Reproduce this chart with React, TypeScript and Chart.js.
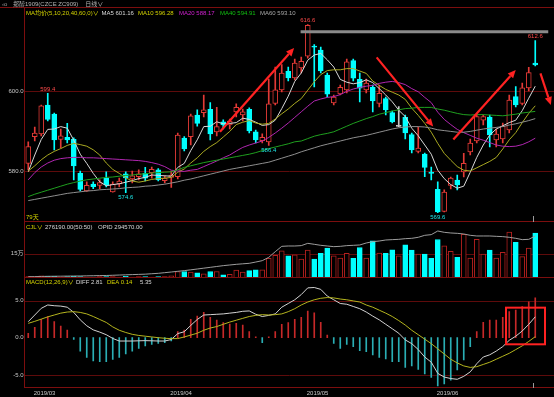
import React, { useEffect, useRef } from 'react';
import { Chart, registerables } from 'chart.js';

Chart.register(...registerables);

/* ---------------- data ---------------- */
const tradingDays: [string, number[]][] = [
  ['2019/02', [28]],
  ['2019/03', [1, 4, 5, 6, 7, 8, 11, 12, 13, 14, 15, 18, 19, 20, 21, 22, 25, 26, 27, 28, 29]],
  ['2019/04', [1, 2, 3, 4, 8, 9, 10, 11, 12, 15, 16, 17, 18, 19, 22, 23, 24, 25, 26, 29, 30]],
  ['2019/05', [6, 7, 8, 9, 10, 13, 14, 15, 16, 17, 20, 21, 22, 23, 24, 27, 28, 29, 30, 31]],
  ['2019/06', [3, 4, 5, 6, 10, 11, 12, 13, 14, 17, 18, 19, 20, 21, 24, 25]],
];
const dates = tradingDays.flatMap(([m, days]) => days.map((d) => `${m}/${String(d).padStart(2, '0')}`));

const opens = [
  581.9, 588.6, 589.3, 596.5, 594.2, 587.9, 588.4, 587.9, 579.4, 575.0,
  576.7, 576.4, 578.2, 574.8, 576.8, 579.3, 578.0, 578.6, 579.4, 579.6,
  580.3, 577.6, 578.4, 578.6, 588.2, 588.6, 594.0, 594.6, 595.4, 589.8,
  592.3, 591.5, 594.8, 594.0, 595.4, 589.8, 587.6, 587.3, 596.9, 600.3,
  604.9, 603.3, 605.8, 608.7, 611.2, 610.2, 604.0, 597.0, 599.3, 600.3,
  607.6, 602.9, 600.3, 600.9, 596.9, 598.1, 594.6, 591.3, 593.4, 589.1,
  584.9, 584.2, 579.7, 575.4, 569.9, 576.4, 577.7, 579.8, 584.8, 587.5,
  592.7, 593.5, 587.8, 588.0, 590.3, 598.6, 596.9, 600.8, 607.0,
];
const highs = [
  587.3, 591.0, 596.5, 599.4, 594.5, 590.5, 591.9, 588.3, 580.0, 577.3,
  577.3, 577.8, 579.8, 577.3, 578.2, 579.8, 580.0, 580.3, 580.9, 581.0,
  580.6, 578.8, 580.0, 589.5, 588.6, 594.2, 595.3, 599.0, 597.1, 595.9,
  592.8, 593.0, 596.8, 595.5, 595.8, 590.2, 589.3, 603.0, 606.0, 606.6,
  606.0, 608.0, 608.5, 616.6, 611.6, 611.0, 604.5, 599.0, 601.5, 608.0,
  608.0, 604.5, 603.0, 601.5, 601.5, 598.5, 595.0, 596.1, 594.0, 589.5,
  591.0, 584.5, 581.0, 577.3, 575.3, 578.5, 579.0, 584.4, 588.0, 594.0,
  594.0, 594.0, 590.5, 592.0, 599.0, 601.1, 602.0, 605.9, 612.6,
];
const lows = [
  580.3, 587.5, 588.8, 592.5, 585.3, 585.8, 587.0, 577.8, 575.0, 574.9,
  575.6, 575.6, 576.0, 574.7, 576.0, 574.6, 577.0, 577.8, 577.5, 578.2,
  577.5, 577.0, 575.9, 578.0, 585.0, 586.5, 591.2, 593.5, 587.8, 588.8,
  590.5, 590.5, 593.5, 592.5, 589.5, 587.0, 587.0, 586.4, 596.5, 599.8,
  602.5, 602.8, 604.5, 608.2, 601.0, 604.5, 598.5, 596.5, 599.0, 599.5,
  602.5, 597.3, 599.5, 594.8, 596.0, 594.0, 592.0, 591.1, 588.0, 584.5,
  584.5, 578.6, 577.8, 569.6, 569.8, 575.5, 575.3, 578.5, 584.0, 587.0,
  591.5, 586.0, 586.0, 587.0, 589.5, 596.0, 596.5, 600.0, 606.3,
];
const closes = [
  586.1, 589.5, 596.3, 592.9, 587.8, 588.8, 587.8, 581.3, 575.4, 576.4,
  576.1, 577.1, 576.5, 576.7, 577.5, 578.3, 578.8, 579.3, 578.2, 580.4,
  577.8, 578.2, 579.0, 589.0, 585.5, 593.8, 591.9, 595.3, 589.3, 591.1,
  591.5, 592.5, 595.9, 594.8, 590.0, 587.8, 588.4, 596.8, 600.3, 604.5,
  603.3, 607.0, 607.4, 616.4, 611.0, 605.0, 599.2, 598.5, 600.9, 607.3,
  603.2, 600.7, 602.0, 597.5, 599.4, 595.3, 592.3, 591.3, 589.5, 585.3,
  585.7, 580.9, 579.4, 569.8, 574.7, 578.2, 576.5, 581.9, 587.0, 593.6,
  593.6, 589.0, 589.2, 591.2, 597.7, 596.5, 600.8, 604.6, 606.5,
];

const ma5 = [
  579.8, 584.0, 587.9, 590.4, 590.5, 591.1, 590.7, 587.7, 584.2, 581.9,
  579.4, 577.3, 576.3, 576.6, 576.8, 577.2, 577.6, 578.1, 578.4, 579.0,
  578.9, 578.8, 578.7, 580.9, 581.9, 585.1, 587.8, 591.1, 591.2, 592.3,
  591.8, 591.9, 592.1, 593.2, 592.9, 592.2, 591.4, 591.6, 592.7, 595.6,
  598.7, 602.4, 604.5, 607.7, 609.0, 609.4, 607.8, 606.0, 602.9, 602.2,
  601.8, 602.1, 602.8, 602.1, 600.6, 599.0, 597.3, 595.2, 593.6, 590.7,
  588.8, 586.5, 584.2, 580.2, 578.1, 576.6, 575.7, 576.2, 579.7, 583.4,
  586.5, 589.0, 590.5, 591.3, 592.1, 592.7, 595.1, 598.2, 601.2,
];
const ma10 = [
  580.0, 581.3, 582.8, 584.0, 584.9, 585.6, 586.4, 586.9, 586.6, 586.2,
  585.3, 584.0, 582.0, 580.4, 579.4, 578.3, 577.5, 577.2, 577.5, 577.9,
  578.1, 578.2, 578.4, 579.7, 580.5, 582.0, 583.3, 584.9, 586.1, 587.1,
  588.5, 589.9, 591.6, 592.2, 592.6, 592.0, 591.7, 591.9, 593.0, 594.3,
  595.5, 596.9, 598.1, 600.2, 602.3, 604.1, 605.1, 605.3, 605.3, 605.6,
  605.6, 605.0, 604.4, 602.5, 601.4, 600.4, 599.7, 599.0, 597.9, 595.7,
  593.9, 591.9, 589.7, 586.9, 584.4, 582.7, 581.1, 580.2, 580.0, 580.8,
  581.6, 582.4, 583.4, 585.5, 587.8, 589.6, 592.1, 594.4, 596.3,
];
const ma20 = [
  577.8, 579.6, 581.0, 582.0, 582.7, 583.1, 583.3, 583.4, 583.4, 583.3,
  583.3, 583.2, 583.1, 583.0, 582.9, 582.8, 582.7, 582.6, 582.4, 582.1,
  581.7, 581.1, 580.2, 580.0, 579.9, 580.2, 580.4, 581.1, 581.8, 582.5,
  583.3, 584.0, 585.0, 585.9, 586.5, 587.0, 587.5, 588.4, 589.5, 590.7,
  592.0, 593.4, 594.8, 596.2, 597.5, 598.0, 598.4, 598.6, 599.1, 599.9,
  600.5, 600.9, 601.2, 601.4, 601.9, 602.2, 602.4, 602.1, 601.6, 600.6,
  599.8, 598.4, 597.1, 594.7, 592.9, 591.6, 590.4, 589.6, 588.9, 588.2,
  587.7, 587.1, 586.5, 586.2, 586.1, 586.2, 586.6, 587.3, 588.2,
];
const ma40 = [
  573.6, 574.2, 574.7, 575.2, 575.7, 576.2, 576.7, 577.1, 577.5, 577.8,
  578.0, 578.2, 578.4, 578.5, 578.7, 578.9, 579.0, 579.2, 579.3, 579.5,
  579.6, 579.7, 579.8, 580.3, 580.9, 581.3, 581.7, 582.1, 582.4, 582.7,
  583.0, 583.3, 583.6, 583.9, 584.2, 584.6, 585.1, 585.6, 586.0, 586.4,
  586.8, 587.3, 587.5, 588.1, 588.7, 589.1, 589.4, 589.8, 590.5, 591.2,
  591.9, 592.5, 593.1, 593.6, 594.2, 594.6, 595.0, 595.3, 595.6, 595.7,
  595.9, 595.9, 595.9, 595.5, 595.2, 594.8, 594.4, 594.1, 594.0, 594.1,
  594.1, 594.0, 593.9, 593.8, 594.0, 594.2, 594.5, 594.7, 594.9,
];
const ma60 = [
  572.6, 572.9, 573.2, 573.5, 573.8, 574.1, 574.4, 574.6, 574.8, 575.0,
  575.1, 575.3, 575.4, 575.5, 575.6, 575.8, 575.9, 576.0, 576.2, 576.3,
  576.5, 576.7, 577.0, 577.3, 577.7, 578.0, 578.4, 578.8, 579.2, 579.6,
  580.0, 580.4, 580.7, 581.0, 581.3, 581.6, 581.9, 582.2, 582.7, 583.2,
  583.7, 584.2, 584.8, 585.3, 585.8, 586.3, 586.7, 587.1, 587.5, 587.9,
  588.3, 588.6, 588.9, 589.3, 589.7, 590.1, 590.5, 590.8, 591.0, 591.1,
  591.1, 591.0, 590.7, 590.3, 590.1, 589.9, 589.7, 589.7, 589.9, 590.2,
  590.5, 590.7, 590.9, 591.1, 591.5, 591.8, 592.2, 592.6, 593.1,
];

const volumes = [
  8000, 6000, 14000, 10000, 10000, 6000, 8000, 10000, 8000, 6000,
  6000, 8000, 8000, 8000, 6000, 10000, 6000, 8000, 8000, 6000,
  8000, 8000, 14000, 40000, 40000, 36000, 32000, 26000, 40000, 40000,
  20000, 22000, 49000, 36000, 45000, 51000, 51000, 121000, 140000, 168000,
  137000, 142000, 117000, 172000, 117000, 152000, 184000, 137000, 123000, 152000,
  121000, 188000, 123000, 229000, 154000, 152000, 174000, 136000, 204000, 172000,
  148000, 148000, 121000, 237000, 198000, 164000, 127000, 269000, 123000, 239000,
  148000, 172000, 123000, 158000, 283000, 219000, 132000, 184000, 276190,
];
const openInterest = [
  202300, 202500, 202800, 203100, 203300, 203400, 203600, 203800, 203900, 204200,
  204500, 204800, 205000, 205500, 206000, 206500, 207000, 207500, 208000, 209000,
  209900, 211400, 212900, 214500, 216000, 217800, 219700, 221600, 223500, 225400,
  227300, 228800, 230300, 231500, 232600, 235500, 238600, 246200, 259000, 271100,
  271900, 271900, 272700, 277900, 275700, 273400, 271900, 270400, 271100, 272700,
  273400, 274200, 278700, 281700, 283200, 285500, 286300, 287000, 288500, 289300,
  291600, 296100, 297600, 305900, 302900, 301400, 300600, 299100, 296100, 294600,
  294600, 294600, 293800, 293100, 291600, 289300, 286300, 287000, 294570,
];

const diff = [
  2.15, 3.05, 3.95, 4.4, 4.3, 4.25, 4.1, 3.4, 2.4, 1.6,
  1.05, 0.75, 0.4, -0.1, -0.45, -0.45, -0.45, -0.42, -0.4, -0.42,
  -0.45, -0.45, -0.25, 0.55, 0.8, 1.65, 2.45, 3.05, 3.1, 3.15,
  3.2, 3.3, 3.4, 3.55, 3.6, 3.15, 2.85, 3.0, 3.2, 4.1,
  4.6, 5.1, 5.8, 6.7, 6.75, 6.5, 5.6, 5.1, 4.6, 4.5,
  4.2, 3.9, 3.45, 2.9, 2.4, 1.8, 1.2, 0.6, -0.3, -0.8,
  -1.6, -2.6, -3.3, -4.8, -5.3, -5.5, -5.6, -5.2, -4.6, -3.5,
  -2.6, -2.3, -1.8, -1.2, -0.35, 0.2, 0.9, 1.8, 2.81,
];
const dea = [
  1.93, 2.2, 2.5, 2.8, 3.05, 3.3, 3.45, 3.5, 3.4, 3.2,
  2.85, 2.45, 2.05, 1.45, 1.0, 0.7, 0.45, 0.3, 0.2, 0.1,
  0.0, -0.08, -0.13, -0.12, 0.1, 0.35, 0.6, 1.0, 1.3, 1.5,
  1.8, 2.1, 2.35, 2.6, 2.85, 3.0, 3.1, 3.05, 3.1, 3.2,
  3.5, 3.9, 4.4, 4.8, 5.1, 5.3, 5.4, 5.35, 5.2, 5.1,
  4.95, 4.8, 4.4, 4.1, 3.7, 3.3, 2.85, 2.3, 1.7, 1.0,
  0.4, -0.2, -0.8, -1.5, -2.2, -2.9, -3.4, -3.8, -4.0, -3.9,
  -3.6, -3.3, -2.9, -2.5, -2.1, -1.6, -1.1, -0.5, 0.14,
];
const macdHist = [
  0.58, 1.39, 2.47, 2.83, 2.15, 1.57, 1.03, -0.22, -1.8, -2.65,
  -3.14, -3.23, -3.23, -2.91, -2.65, -2.2, -1.8, -1.43, -1.12, -0.9,
  -0.76, -0.67, -0.45, 0.81, 1.03, 2.47, 2.91, 3.4, 2.74, 2.38,
  2.02, 1.84, 1.93, 1.7, 0.81, 0.1, -0.67, 0.1, 0.81, 1.79,
  2.02, 2.47, 2.74, 3.59, 3.36, 2.06, 0.36, -0.76, -1.43, -0.9,
  -1.21, -1.75, -1.88, -2.33, -2.65, -2.87, -3.23, -3.23, -4.0, -3.8,
  -4.26, -4.89, -5.34, -6.5, -6.23, -5.7, -4.35, -3.0, -1.21, 0.81,
  2.06, 2.38, 2.38, 2.74, 3.5, 3.72, 4.17, 4.84, 5.35,
];

const priceGrid = [580, 600];
const volumeGrid = [150000];
const volumeLabels = [{ value: 150000, text: '15万' }];
const macdGrid = [-5, 5];
const macdLabelValues = [5, 0, -5];

const extremeMarks: { index: number; type: 'high' | 'low' }[] = [
  { index: 3, type: 'high' },
  { index: 15, type: 'low' },
  { index: 37, type: 'low' },
  { index: 43, type: 'high' },
  { index: 63, type: 'low' },
  { index: 78, type: 'high' },
];

// hand-drawn annotations, in (candle index, value) coordinates
const trendArrows = [
  { from: [29.5, 589.8], to: [40.9, 610.75] },
  { from: [53.6, 608.4], to: [62.3, 591.1] },
  { from: [65.4, 587.9], to: [75.0, 605.25] },
  { from: [78.8, 604.4], to: [80.4, 596.5] },
];
const resistanceBar = { price: 614.8, from: 41.9, to: 80.0 };
const macdBox = { from: 73.5, to: 79.5, top: 4.04, bottom: -0.89 };
const cursorIndex = 77.6;

/* ---------------- style ---------------- */
const FONT = '"Liberation Sans", "Noto Sans CJK SC", Arial, sans-serif';
const FS = 6;
const GRID = '#5e0b0b';
const AXIS = '#7c0e0e';
const RED = '#e23a36';
const VOL_RED = '#b3201e';
const CYAN = '#00ffff';
const DOJI = '#c8c8c8';
const YELLOW = '#d2d200';
const LABEL = '#c6c6c6';

const kinds = opens.map((o, i) => (closes[i] > o ? 'up' : closes[i] < o ? 'down' : 'flat'));

function baseOptions(yScales: any, bottomPad = 0): any {
  return {
    responsive: false,
    maintainAspectRatio: false,
    animation: false,
    devicePixelRatio: 1,
    events: [],
    layout: { padding: { left: 25, right: 15.5, top: 0, bottom: bottomPad } },
    plugins: { legend: { display: false }, tooltip: { enabled: false } },
    scales: {
      x: { type: 'category', display: false, offset: true },
      ...yScales,
    },
  };
}

function hline(ctx: CanvasRenderingContext2D, x1: number, x2: number, y: number) {
  ctx.beginPath();
  ctx.moveTo(x1, y);
  ctx.lineTo(x2, y);
  ctx.stroke();
}

function panelPlugin(cfg: {
  id: string;
  grid: number[];
  labels: { value: number; text: string }[];
  topBorder?: boolean;
  bottomBorder?: boolean;
  after?: (chart: any) => void;
}) {
  return {
    id: cfg.id,
    beforeDatasetsDraw(chart: any) {
      const { ctx, chartArea: a, scales } = chart;
      ctx.save();
      ctx.lineWidth = 1;
      ctx.strokeStyle = GRID;
      for (const v of cfg.grid) {
        hline(ctx, a.left, chart.width, Math.round(scales.y.getPixelForValue(v)) + 0.5);
      }
      ctx.restore();
    },
    afterDraw(chart: any) {
      const { ctx, chartArea: a, scales } = chart;
      ctx.save();
      ctx.strokeStyle = AXIS;
      ctx.lineWidth = 1;
      ctx.beginPath();
      ctx.moveTo(a.left - 0.5, 0);
      ctx.lineTo(a.left - 0.5, a.bottom);
      ctx.stroke();
      if (cfg.topBorder) hline(ctx, 0, chart.width, 0.5);
      if (cfg.bottomBorder) hline(ctx, a.left - 1, chart.width, a.bottom - 0.5);
      ctx.font = `${FS}px ${FONT}`;
      ctx.fillStyle = LABEL;
      ctx.textAlign = 'right';
      ctx.textBaseline = 'middle';
      for (const l of cfg.labels) ctx.fillText(l.text, a.left - 1.5, scales.y.getPixelForValue(l.value));
      ctx.restore();
      cfg.after?.(chart);
    },
  };
}

function drawArrow(ctx: CanvasRenderingContext2D, x1: number, y1: number, x2: number, y2: number) {
  const ang = Math.atan2(y2 - y1, x2 - x1);
  const headLen = 8;
  const headW = 3.6;
  const bx = x2 - headLen * Math.cos(ang);
  const by = y2 - headLen * Math.sin(ang);
  ctx.strokeStyle = '#ff2222';
  ctx.fillStyle = '#ff2222';
  ctx.lineWidth = 2.2;
  ctx.lineCap = 'butt';
  ctx.beginPath();
  ctx.moveTo(x1, y1);
  ctx.lineTo(bx, by);
  ctx.stroke();
  ctx.beginPath();
  ctx.moveTo(x2, y2);
  ctx.lineTo(bx + headW * Math.sin(ang), by - headW * Math.cos(ang));
  ctx.lineTo(bx - headW * Math.sin(ang), by + headW * Math.cos(ang));
  ctx.closePath();
  ctx.fill();
}

function mainConfig(): any {
  const bodies = opens.map((o, i) => {
    const c = closes[i];
    if (Math.abs(o - c) < 0.25) {
      const m = (o + c) / 2;
      return [m - 0.125, m + 0.125];
    }
    return [Math.min(o, c), Math.max(o, c)];
  });
  const wicks = lows.map((l, i) => [l, highs[i]]);
  const edge = kinds.map((k) => (k === 'up' ? RED : k === 'down' ? CYAN : DOJI));
  const fill = kinds.map((k) => (k === 'up' ? '#000000' : k === 'down' ? CYAN : DOJI));
  const ma = (data: number[], color: string) => ({
    type: 'line',
    data,
    borderColor: color,
    borderWidth: 1,
    pointRadius: 0,
    tension: 0,
    order: 0,
  });
  return {
    type: 'bar',
    data: {
      labels: dates,
      datasets: [
        { type: 'bar', data: bodies, backgroundColor: fill, borderColor: edge, borderWidth: 1, borderSkipped: false, barThickness: 5, grouped: false, order: 1 },
        { type: 'bar', data: wicks, backgroundColor: edge, borderWidth: 0, barThickness: 1, grouped: false, order: 2 },
        ma(ma60, '#8e8e8e'),
        ma(ma40, '#1f9f1f'),
        ma(ma20, '#b026b0'),
        ma(ma10, '#aaaa22'),
        ma(ma5, '#d8d8d8'),
      ],
    },
    options: baseOptions({ y: { display: false, min: 567.25, max: 621 } }),
    plugins: [
      panelPlugin({
        id: 'mainPanel',
        grid: priceGrid,
        labels: priceGrid.map((v) => ({ value: v, text: v.toFixed(1) })),
        topBorder: true,
        bottomBorder: true,
        after: (chart) => {
          const { ctx, scales, chartArea: a } = chart;
          const xs = scales.x;
          const ys = scales.y;
          ctx.save();
          // resistance bar
          ctx.strokeStyle = '#8a8a8a';
          ctx.lineWidth = 3;
          hline(ctx, xs.getPixelForValue(resistanceBar.from), xs.getPixelForValue(resistanceBar.to), ys.getPixelForValue(resistanceBar.price));
          // extreme labels
          ctx.font = `${FS}px ${FONT}`;
          ctx.textAlign = 'center';
          ctx.textBaseline = 'middle';
          for (const m of extremeMarks) {
            const hi = m.type === 'high';
            const v = hi ? highs[m.index] : lows[m.index];
            ctx.fillStyle = hi ? '#ff4a4a' : '#1ee8e8';
            ctx.fillText(v.toFixed(1), xs.getPixelForValue(m.index), ys.getPixelForValue(v) + (hi ? -4.5 : 4.5));
          }
          // arrows
          for (const ar of trendArrows) {
            drawArrow(
              ctx,
              xs.getPixelForValue(ar.from[0]),
              ys.getPixelForValue(ar.from[1]),
              xs.getPixelForValue(ar.to[0]),
              ys.getPixelForValue(ar.to[1]),
            );
          }
          // cursor tick
          ctx.strokeStyle = '#9a9a9a';
          ctx.lineWidth = 1;
          const cx = Math.round(xs.getPixelForValue(cursorIndex)) + 0.5;
          ctx.beginPath();
          ctx.moveTo(cx, a.bottom - 6);
          ctx.lineTo(cx, a.bottom);
          ctx.stroke();
          ctx.restore();
        },
      }),
    ],
  };
}

function volumeConfig(): any {
  const down = opens.map((o, i) => closes[i] < o);
  return {
    type: 'bar',
    data: {
      labels: dates,
      datasets: [
        { type: 'line', data: openInterest, yAxisID: 'oi', borderColor: '#9c9c9c', borderWidth: 1, pointRadius: 0, tension: 0, order: 0 },
        {
          type: 'bar',
          data: volumes,
          yAxisID: 'y',
          backgroundColor: down.map((d) => (d ? CYAN : '#000000')),
          borderColor: down.map((d) => (d ? CYAN : VOL_RED)),
          borderWidth: 1,
          borderSkipped: false,
          barThickness: 5,
          order: 1,
        },
      ],
    },
    options: baseOptions({
      y: { display: false, min: 0, max: 345000 },
      oi: { display: false, min: 199300, max: 326300, position: 'right' },
    }),
    plugins: [
      panelPlugin({ id: 'volPanel', grid: volumeGrid, labels: volumeLabels, bottomBorder: true }),
    ],
  };
}

function macdConfig(): any {
  const monthStarts = dates
    .map((d, i) => ({ i, m: d.slice(0, 7) }))
    .filter((o, k, arr) => k > 0 && o.m !== arr[k - 1].m);
  return {
    type: 'bar',
    data: {
      labels: dates,
      datasets: [
        { type: 'line', data: dea, borderColor: '#b4b41e', borderWidth: 1, pointRadius: 0, tension: 0, order: 0 },
        { type: 'line', data: diff, borderColor: '#d2d2d2', borderWidth: 1, pointRadius: 0, tension: 0, order: 0 },
        {
          type: 'bar',
          data: macdHist,
          backgroundColor: macdHist.map((v) => (v >= 0 ? '#c62828' : '#2aaeb4')),
          borderWidth: 0,
          barThickness: 1,
          order: 1,
        },
      ],
    },
    options: baseOptions({ y: { display: false, min: -6.77, max: 8.03 } }, 9),
    plugins: [
      panelPlugin({
        id: 'macdPanel',
        grid: macdGrid,
        labels: macdLabelValues.map((v) => ({ value: v, text: v.toFixed(1) })),
        bottomBorder: true,
        after: (chart) => {
          const { ctx, scales, chartArea: a } = chart;
          const xs = scales.x;
          const ys = scales.y;
          ctx.save();
          ctx.strokeStyle = '#ff2222';
          ctx.lineWidth = 2;
          const x1 = xs.getPixelForValue(macdBox.from);
          const x2 = xs.getPixelForValue(macdBox.to);
          const y1 = ys.getPixelForValue(macdBox.top);
          const y2 = ys.getPixelForValue(macdBox.bottom);
          ctx.strokeRect(x1, y1, x2 - x1, y2 - y1);
          ctx.strokeStyle = '#9a9a9a';
          ctx.lineWidth = 1;
          const cx = Math.round(xs.getPixelForValue(cursorIndex)) + 0.5;
          ctx.beginPath();
          ctx.moveTo(cx, a.bottom - 5);
          ctx.lineTo(cx, a.bottom);
          ctx.stroke();
          ctx.font = `${FS}px ${FONT}`;
          ctx.fillStyle = LABEL;
          ctx.textAlign = 'left';
          ctx.textBaseline = 'middle';
          for (const ms of monthStarts) {
            ctx.fillText(ms.m, xs.getPixelForValue(ms.i) - 1, a.bottom + 5);
          }
          ctx.restore();
        },
      }),
    ],
  };
}

const Txt = ({ x, y, color, children }: { x: number; y: number; color: string; children: React.ReactNode }) => (
  <span
    style={{
      position: 'absolute',
      left: x,
      top: y - 4,
      color,
      fontSize: FS,
      lineHeight: '8px',
      whiteSpace: 'nowrap',
      fontFamily: FONT,
    }}
  >
    {children}
  </span>
);

export default function App() {
  const mainRef = useRef<HTMLCanvasElement>(null);
  const volRef = useRef<HTMLCanvasElement>(null);
  const macdRef = useRef<HTMLCanvasElement>(null);

  useEffect(() => {
    document.body.style.margin = '0';
    document.body.style.background = '#000';
    const charts = [
      new Chart(mainRef.current as HTMLCanvasElement, mainConfig()),
      new Chart(volRef.current as HTMLCanvasElement, volumeConfig()),
      new Chart(macdRef.current as HTMLCanvasElement, macdConfig()),
    ];
    return () => charts.forEach((c) => c.destroy());
  }, []);

  return (
    <div style={{ position: 'relative', width: 554, height: 397, background: '#000', overflow: 'hidden' }}>
      <canvas ref={mainRef} width={554} height={215} style={{ position: 'absolute', left: 0, top: 7, width: 554, height: 215 }} />
      <canvas ref={volRef} width={554} height={56} style={{ position: 'absolute', left: 0, top: 222, width: 554, height: 56 }} />
      <canvas ref={macdRef} width={554} height={119} style={{ position: 'absolute', left: 0, top: 278, width: 554, height: 119 }} />

      <Txt x={2} y={4} color="#9a9a9a">‹o</Txt>
      <Txt x={13} y={4} color="#b4b4b4">
        郑醇1909(CZCE ZC909)<span style={{ marginLeft: 7 }}>日线∨</span>
      </Txt>

      <Txt x={26} y={13.3} color={YELLOW}>MA均价(5,10,20,40,60,0)∨</Txt>
      <Txt x={101.5} y={13.3} color="#d8d8d8">MA5 601.16</Txt>
      <Txt x={138} y={13.3} color={YELLOW}>MA10 596.28</Txt>
      <Txt x={179} y={13.3} color="#d020d0">MA20 588.17</Txt>
      <Txt x={220} y={13.3} color="#10c010">MA40 594.91</Txt>
      <Txt x={260} y={13.3} color="#a8a8a8">MA60 593.10</Txt>

      <Txt x={26} y={217} color={YELLOW}>79天</Txt>

      <Txt x={26} y={226.7} color={YELLOW}>CJL∨</Txt>
      <Txt x={45} y={226.7} color="#d8d8d8">276190.00(50:50)</Txt>
      <Txt x={98} y={226.7} color="#d8d8d8">OPID 294570.00</Txt>

      <Txt x={26} y={281.5} color={YELLOW}>MACD(12,26,9)∨</Txt>
      <Txt x={76} y={281.5} color="#d8d8d8">DIFF 2.81</Txt>
      <Txt x={107} y={281.5} color={YELLOW}>DEA 0.14</Txt>
      <Txt x={140} y={281.5} color="#d8d8d8">5.35</Txt>
    </div>
  );
}
